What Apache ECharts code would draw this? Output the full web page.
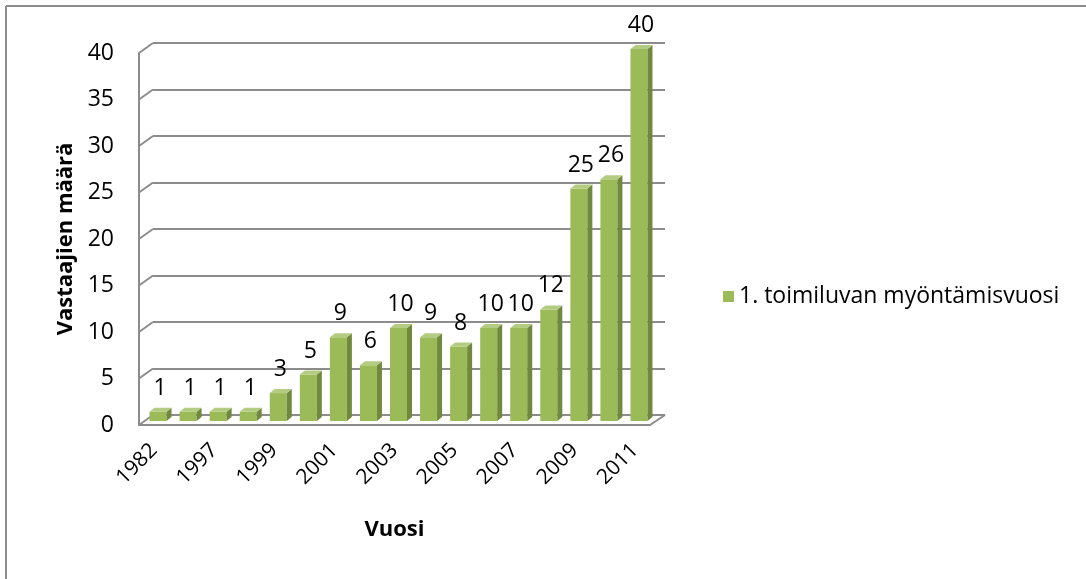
<!DOCTYPE html>
<html>
<head>
<meta charset="utf-8">
<script src="https://cdn.jsdelivr.net/npm/echarts@6/dist/echarts.min.js"></script>
<style>
  html, body { margin: 0; padding: 0; background: #fff; }
  #chart { width: 1086px; height: 579px; }
</style>
</head>
<body>
<div id="chart"></div>
<script>
// vuodet (joka toinen nimike näkyy)
const years = ["1982", "1996", "1997", "1998", "1999", "2000", "2001", "2002", "2003",
  "2004", "2005", "2006", "2007", "2008", "2009", "2010", "2011"];
const counts = [1, 1, 1, 1, 3, 5, 9, 6, 10, 9, 8, 10, 10, 12, 25, 26, 40];
const yTicks = [0, 5, 10, 15, 20, 25, 30, 35, 40];
const seriesName = "1. toimiluvan myöntämisvuosi";

const FONT = "'Open Sans', 'Noto Sans', sans-serif";
const GRID_COLOR = "#8c8c8c";
// syvyyssiirto (3D-vaikutelma)
const DX = 14, DY = -10;

const chart = echarts.init(document.getElementById("chart"));

const option = {
  animation: false,
  textStyle: { fontFamily: FONT },
  graphic: [
    { type: "line", shape: { x1: 6, y1: 6, x2: 1086, y2: 6 }, style: { stroke: "#8c8c8c", lineWidth: 2 } },
    { type: "line", shape: { x1: 6, y1: 6, x2: 6, y2: 579 }, style: { stroke: "#8c8c8c", lineWidth: 2 } },
  ],
  legend: {
    data: [seriesName],
    left: 718,
    top: 280,
    icon: "rect",
    itemWidth: 11,
    itemHeight: 11,
    itemGap: 6,
    textStyle: { fontSize: 23, color: "#000", fontFamily: FONT },
  },
  grid: [
    { left: 139, top: 53, width: 511, height: 372 },
    { left: 139 + DX, top: 53 + DY, width: 512, height: 372 },
  ],
  xAxis: [
    {
      gridIndex: 0,
      type: "category",
      data: years,
      axisLine: { show: true, lineStyle: { color: GRID_COLOR, width: 2 } },
      axisTick: { show: false },
      axisLabel: {
        interval: 1,
        rotate: 45,
        margin: 22,
        fontSize: 21,
        color: "#000",
        fontFamily: FONT,
      },
      name: "Vuosi",
      nameLocation: "middle",
      nameGap: 94,
      nameTextStyle: { fontSize: 22, fontWeight: "bold", color: "#000", fontFamily: FONT },
    },
    {
      gridIndex: 1,
      type: "category",
      data: years,
      show: false,
    },
  ],
  yAxis: [
    {
      gridIndex: 0,
      type: "value",
      min: 0,
      max: 40,
      interval: 5,
      axisLine: { show: true, lineStyle: { color: GRID_COLOR, width: 2 } },
      axisTick: { show: false },
      splitLine: { show: false },
      axisLabel: {
        margin: 25,
        fontSize: 23,
        color: "#000",
        fontFamily: FONT,
        padding: [6, 0, 0, 0],
      },
      name: "Vastaajien määrä",
      nameLocation: "middle",
      nameGap: 62,
      nameRotate: 90,
      nameTextStyle: { fontSize: 22, fontWeight: "bold", color: "#000", fontFamily: FONT },
    },
    {
      gridIndex: 1,
      type: "value",
      min: 0,
      max: 40,
      interval: 5,
      axisLine: { show: false },
      axisTick: { show: false },
      axisLabel: { show: false },
      splitLine: { show: true, lineStyle: { color: GRID_COLOR, width: 2 } },
    },
  ],
  series: [
    {
      // vinot viivat vasemmalla + lattian oikea reuna
      type: "custom",
      xAxisIndex: 0,
      yAxisIndex: 0,
      silent: true,
      data: yTicks.map((v) => [0, v]),
      renderItem: function (params, api) {
        const p = api.coord([0, api.value(1)]);
        const cs = params.coordSys;
        const children = [
          {
            type: "line",
            shape: { x1: cs.x, y1: p[1], x2: cs.x + DX, y2: p[1] + DY },
            style: { stroke: GRID_COLOR, lineWidth: 2 },
          },
        ];
        if (api.value(1) === 0) {
          children.push({
            type: "line",
            shape: { x1: cs.x + cs.width, y1: p[1], x2: cs.x + cs.width + DX + 1, y2: p[1] + DY },
            style: { stroke: GRID_COLOR, lineWidth: 2 },
          });
        }
        return { type: "group", children: children };
      },
      z: 1,
    },
    {
      name: seriesName,
      type: "custom",
      xAxisIndex: 0,
      yAxisIndex: 0,
      itemStyle: { color: "#9bbb59" },
      data: counts.map((v, i) => [i, v]),
      renderItem: function (params, api) {
        const idx = api.value(0);
        const val = api.value(1);
        const top = api.coord([idx, val]);
        const base = api.coord([idx, 0]);
        const w = 17, sx = 5, sy = -4;
        const x0 = top[0] - w / 2 + 4;
        const x1 = x0 + w;
        const yt = top[1] - 4;
        const yb = base[1] - 4;
        return {
          type: "group",
          children: [
            {
              type: "rect",
              shape: { x: x0, y: yt, width: w, height: yb - yt },
              style: { fill: "#9bbb59" },
            },
            {
              type: "polygon",
              shape: { points: [[x1, yt], [x1 + sx, yt + sy], [x1 + sx, yb + sy], [x1, yb]] },
              style: { fill: "#71893f" },
            },
            {
              type: "polygon",
              shape: { points: [[x0, yt], [x1, yt], [x1 + sx, yt + sy], [x0 + sx, yt + sy]] },
              style: { fill: "#b3cc82" },
            },
            {
              type: "text",
              style: {
                text: String(val),
                x: (x0 + x1) / 2 + 2,
                y: yt - 12,
                textAlign: "center",
                textVerticalAlign: "bottom",
                fontSize: 23,
                fontFamily: FONT,
                fill: "#000",
              },
            },
          ],
        };
      },
      z: 2,
    },
  ],
};

chart.setOption(option);
</script>
</body>
</html>
